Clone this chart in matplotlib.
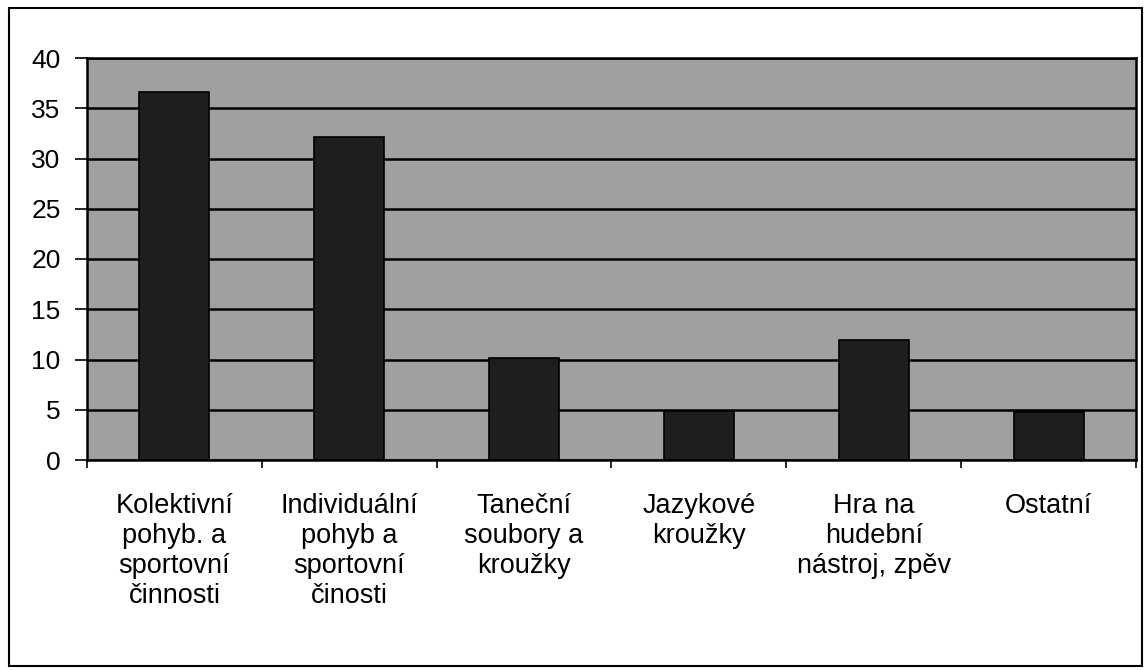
import matplotlib.pyplot as plt
from matplotlib.patches import Rectangle

# --- DATA ---
categories = ["Kolektivní\npohyb. a\nsportovní\nčinnosti",
              "Individuální\npohyb a\nsportovní\nčinosti",
              "Taneční\nsoubory a\nkroužky",
              "Jazykové\nkroužky",
              "Hra na\nhudební\nnástroj, zpěv",
              "Ostatní"]
values = [36.6, 32.1, 10.1, 4.9, 11.9, 4.8]
yticks = [0, 5, 10, 15, 20, 25, 30, 35, 40]

plt.rcParams['font.family'] = ['Liberation Sans', 'DejaVu Sans']

fig = plt.figure(figsize=(11.44, 6.70), dpi=100)
ax = fig.add_axes([87/1144, 1 - 460/670, (1136 - 87)/1144, (460 - 58)/670])
ax.set_facecolor("#a0a0a0")

pos = list(range(len(categories)))
ax.bar(pos, values, width=0.4, color="#1e1e1e", edgecolor="black", lw=1.2, zorder=3)

ax.set_xlim(-0.5, len(categories) - 0.5)
ax.set_ylim(0, 40)
ax.set_yticks(yticks)
ax.set_yticklabels([str(t) for t in yticks], fontsize=19)
ax.yaxis.grid(True, color="black", lw=1.8, zorder=1)
ax.set_axisbelow(True)

# tick marks between categories, labels centered under bars
ax.set_xticks([p - 0.5 for p in pos] + [len(categories) - 0.5])
ax.set_xticklabels([])
ax.set_xticks(pos, minor=True)
ax.set_xticklabels(categories, minor=True, fontsize=19.5, va="top", ha="center")
ax.tick_params(axis="x", which="major", direction="out", length=6, width=1.2)
ax.tick_params(axis="x", which="minor", length=0, pad=24)
ax.tick_params(axis="y", direction="out", length=9, width=1.2, pad=10)

for s in ["left", "top", "right", "bottom"]:
    ax.spines[s].set_color("black")
    ax.spines[s].set_linewidth(1.8)

# outer frame around the whole chart
fig.patches.append(Rectangle((9/1144, 1 - 666/670), 1133/1144, 658/670,
                             transform=fig.transFigure, fill=False,
                             edgecolor="black", lw=1.5))

fig.savefig("out.png", dpi=100)
